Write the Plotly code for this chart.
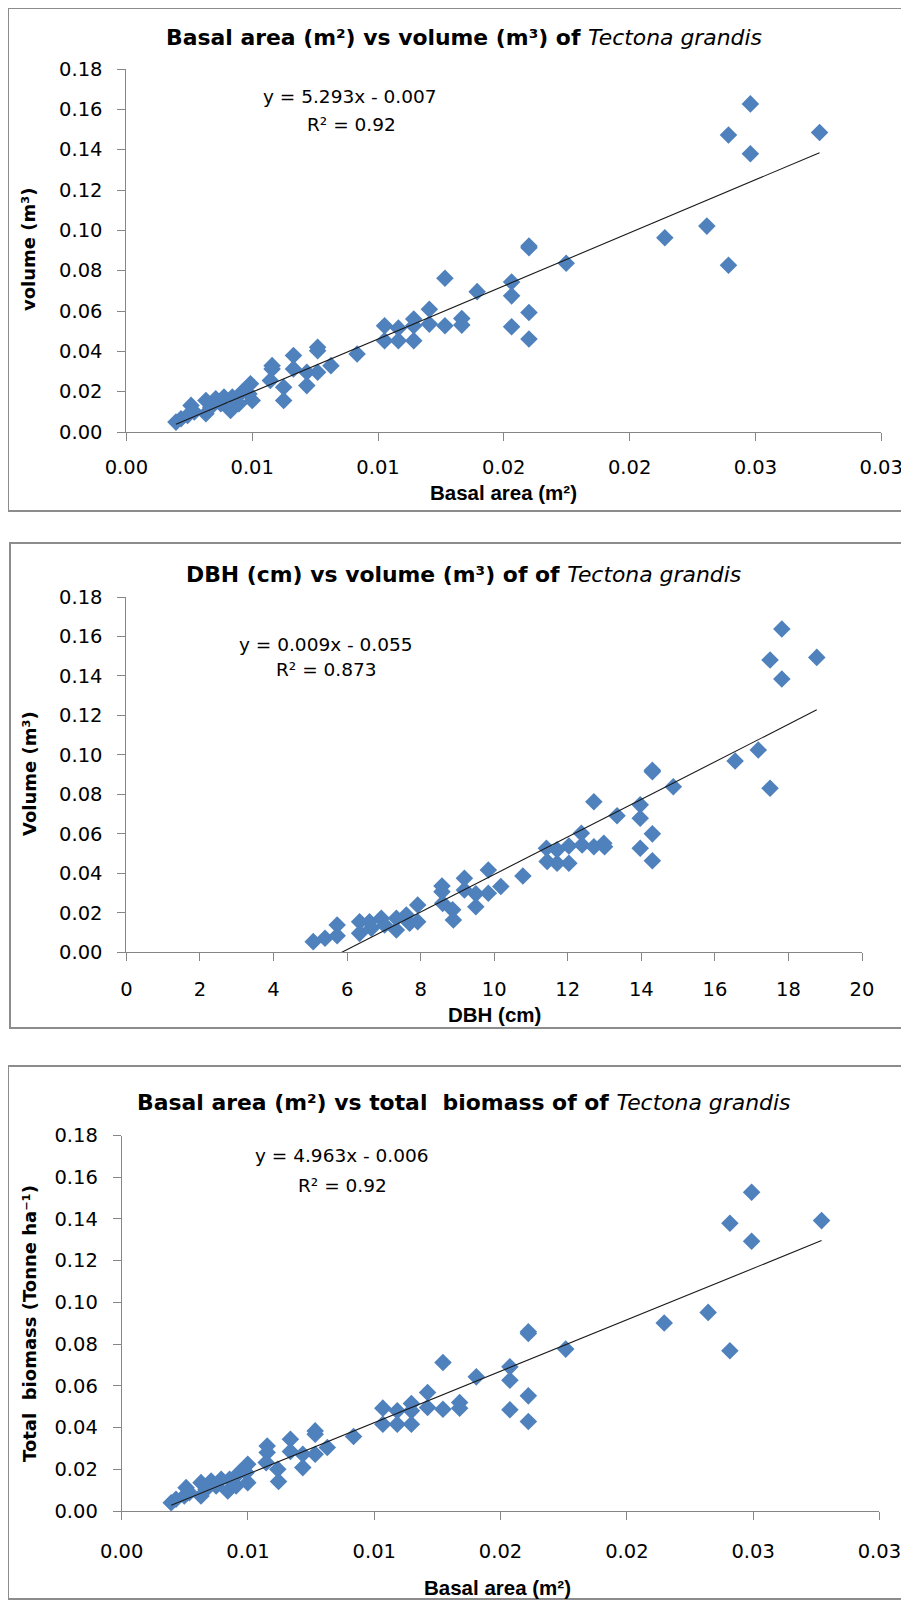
import numpy as np
import plotly.graph_objects as go

# The page body adds an 8 px margin, so the figure is drawn 8 px smaller and all
# reference pixel positions are shifted by that offset.
PAGE_W, PAGE_H = 909, 1600
OFF = 8
W, H = PAGE_W - OFF, PAGE_H - OFF

# ---------------- data ----------------
# Panel 1: basal area (m2) vs volume (m3)
basal_area_1 = [0.00197, 0.00217, 0.00257, 0.00243, 0.0027, 0.00316, 0.00316, 0.00335, 0.00355,
                0.00375, 0.00388, 0.00414, 0.00421, 0.00447, 0.0046, 0.00493, 0.005, 0.00487,
                0.00579, 0.00579, 0.00572, 0.00625, 0.00625, 0.00664, 0.00664, 0.00717, 0.00717,
                0.0076, 0.0076, 0.0076, 0.00813, 0.00917,
                0.01026, 0.01026, 0.01081, 0.01081, 0.01142, 0.01142, 0.01142, 0.01204, 0.01204,
                0.01266, 0.01266, 0.01333, 0.01333, 0.01394,
                0.01531, 0.01531, 0.01531, 0.016, 0.016, 0.016, 0.016, 0.01748, 0.0214, 0.02307,
                0.02393, 0.02393, 0.0248, 0.0248, 0.02755]
volume_1 = [0.0049, 0.0066, 0.0132, 0.0082, 0.0099, 0.0156, 0.0091, 0.0123, 0.0165,
            0.014, 0.0173, 0.0107, 0.0173, 0.014, 0.0198, 0.0239, 0.0156, 0.0189,
            0.0329, 0.0313, 0.0255, 0.0222, 0.0156, 0.0379, 0.0313, 0.023, 0.0296,
            0.042, 0.0403, 0.0296, 0.0329, 0.0387,
            0.0527, 0.0453, 0.0515, 0.0453, 0.056, 0.0453, 0.0527, 0.0609, 0.0535,
            0.0762, 0.0527, 0.0563, 0.053, 0.0696,
            0.0744, 0.0675, 0.0522, 0.0914, 0.0922, 0.0593, 0.0461, 0.0837, 0.0963, 0.1021,
            0.1473, 0.0827, 0.1627, 0.138, 0.1485]

# Panel 2: DBH (cm) vs volume (m3)
dbh_2 = [5.08, 5.40, 5.73, 5.73, 6.34, 6.34, 6.61, 6.66, 6.93, 7.02, 7.34, 7.34, 7.61, 7.70, 7.92, 7.92,
         8.58, 8.58, 8.60, 8.87, 8.89, 9.19, 9.19, 9.50, 9.50, 9.84, 9.84, 10.18, 10.78,
         11.42, 11.44, 11.71, 11.71, 12.03, 12.03, 12.37, 12.39, 12.71, 12.71, 12.98, 13.0, 13.34,
         13.97, 13.97, 13.97, 14.30, 14.30, 14.30, 14.30, 14.87,
         16.55, 17.18, 17.50, 17.50, 17.82, 17.82, 18.77]
volume_2 = [0.0054, 0.0071, 0.0084, 0.0138, 0.0155, 0.0096, 0.0155, 0.0122, 0.0172, 0.0138, 0.0113, 0.0172,
            0.0189, 0.0147, 0.024, 0.0155,
            0.0336, 0.0307, 0.0248, 0.0215, 0.0164, 0.0375, 0.0316, 0.0231, 0.0296, 0.0417, 0.0299, 0.0333, 0.0387,
            0.0527, 0.046, 0.0451, 0.0519, 0.0539, 0.0451, 0.0603, 0.0544, 0.0763, 0.0535, 0.0552, 0.0535, 0.0692,
            0.0747, 0.0679, 0.0527, 0.0915, 0.0922, 0.06, 0.0464, 0.0839,
            0.0969, 0.1025, 0.1481, 0.0831, 0.1638, 0.1385, 0.1494]

# Panel 3: basal area (m2) vs total biomass
basal_area_3 = [0.00196, 0.00215, 0.00255, 0.00248, 0.00268, 0.00314, 0.00314, 0.00334, 0.00354,
                0.00374, 0.00394, 0.0042, 0.00427, 0.00453, 0.00466, 0.00499, 0.00499, 0.00493,
                0.00576, 0.00576, 0.00572, 0.00618, 0.00621, 0.00668, 0.00668, 0.00717, 0.00717,
                0.00766, 0.00766, 0.00766, 0.00814, 0.00918,
                0.01034, 0.01034, 0.01091, 0.01091, 0.01147, 0.01147, 0.01147, 0.01211, 0.01211,
                0.01272, 0.01272, 0.01338, 0.01338, 0.01404,
                0.01537, 0.01537, 0.01537, 0.0161, 0.0161, 0.0161, 0.0161, 0.01758, 0.02148, 0.02322,
                0.02408, 0.02408, 0.02494, 0.02494, 0.02771]
biomass_3 = [0.004, 0.0056, 0.0112, 0.0072, 0.0088, 0.0136, 0.0072, 0.0104, 0.0144,
             0.012, 0.0152, 0.0096, 0.0152, 0.012, 0.0184, 0.0224, 0.0136, 0.0184,
             0.0312, 0.028, 0.0232, 0.02, 0.0141, 0.0344, 0.0285, 0.0208, 0.0272,
             0.0384, 0.0368, 0.0272, 0.0304, 0.0357,
             0.0493, 0.0416, 0.048, 0.0416, 0.0515, 0.0416, 0.048, 0.0568, 0.0496,
             0.0712, 0.0488, 0.052, 0.0493, 0.0643,
             0.0691, 0.0627, 0.0485, 0.0851, 0.0859, 0.0552, 0.0429, 0.0776, 0.0901, 0.0952,
             0.1379, 0.0768, 0.1528, 0.1293, 0.1392]

# tick labels
ba_tickvals = [0, 0.005, 0.01, 0.015, 0.02, 0.025, 0.03]
ba_ticktext = ["0.00", "0.01", "0.01", "0.02", "0.02", "0.03", "0.03"]
dbh_tickvals = [0, 2, 4, 6, 8, 10, 12, 14, 16, 18, 20]
y_tickvals = [0, 0.02, 0.04, 0.06, 0.08, 0.10, 0.12, 0.14, 0.16, 0.18]

titles = ["<b>Basal area (m²) vs volume (m³) of </b><i>Tectona grandis</i>",
          "<b>DBH (cm) vs volume (m³) of of </b><i>Tectona grandis</i>",
          "<b>Basal area (m²) vs total  biomass of of </b><i>Tectona grandis</i>"]
x_titles = ["Basal area (m²)", "DBH (cm)", "Basal area (m²)"]
y_titles = ["volume (m³)", "Volume (m³)", "Total  biomass (Tonne ha⁻¹)"]
equations = [("y = 5.293x - 0.007", "R² = 0.92"),
             ("y = 0.009x - 0.055", "R² = 0.873"),
             ("y = 4.963x - 0.006", "R² = 0.92")]

# ---------------- layout helpers (page pixels -> paper fractions) ----------------
def px(x):
    return (x - OFF) / W

def py(y):
    return 1 - (y - OFF) / H

MARKER = "#4F81BD"
AXIS = "#868686"
TICKFONT = dict(family="DejaVu Sans", size=19.5, color="#000000")

panels = [
    dict(x=basal_area_1, y=volume_1, xd=(126.4, 881.2), yd=(69, 432), xr=[0, 0.03],
         tv=ba_tickvals, tt=ba_ticktext, box=(8, 8, 907, 511),
         title_y=37, xt=(503, 493), yt=(29, 250), eq=((350, 96), (351, 124)), std=10),
    dict(x=dbh_2, y=volume_2, xd=(126.4, 862), yd=(597, 952.3), xr=[0, 20],
         tv=dbh_tickvals, tt=[str(v) for v in dbh_tickvals], box=(10, 543, 907, 1028),
         title_y=574, xt=(494, 1014), yt=(29, 774), eq=((326, 644), (326, 670)), std=11),
    dict(x=basal_area_3, y=biomass_3, xd=(121.7, 879.4), yd=(1135.5, 1511), xr=[0, 0.03],
         tv=ba_tickvals, tt=ba_ticktext, box=(8, 1066, 907, 1599),
         title_y=1102, xt=(498, 1587), yt=(29, 1324), eq=((342, 1155), (342, 1185)), std=15),
]

fig = go.Figure()
shapes = []
annotations = []
layout_axes = {}

for i, p in enumerate(panels, start=1):
    xa = "x" if i == 1 else f"x{i}"
    ya = "y" if i == 1 else f"y{i}"
    xs = np.array(p["x"])
    ys = np.array(p["y"])
    fig.add_trace(go.Scatter(x=xs, y=ys, mode="markers", xaxis=xa, yaxis=ya,
                             marker=dict(symbol="diamond", size=13.5, color=MARKER,
                                         line=dict(width=0)),
                             cliponaxis=False, showlegend=False, hoverinfo="skip"))
    slope, intercept = np.polyfit(xs, ys, 1)
    lx = np.array([xs.min(), xs.max()])
    fig.add_trace(go.Scatter(x=lx, y=slope * lx + intercept, mode="lines", xaxis=xa, yaxis=ya,
                             line=dict(color="#1a1a1a", width=1.1),
                             showlegend=False, hoverinfo="skip"))

    layout_axes["xaxis" if i == 1 else f"xaxis{i}"] = dict(
        domain=[px(p["xd"][0]), px(p["xd"][1])], range=p["xr"], anchor=ya,
        tickmode="array", tickvals=p["tv"], ticktext=p["tt"], automargin=False,
        showgrid=False, zeroline=False, showline=True, linecolor=AXIS, linewidth=1,
        ticks="outside", ticklen=8, tickcolor=AXIS, tickwidth=1,
        tickfont=TICKFONT, ticklabelstandoff=p["std"], fixedrange=True)
    layout_axes["yaxis" if i == 1 else f"yaxis{i}"] = dict(
        domain=[py(p["yd"][1]), py(p["yd"][0])], range=[0, 0.18], anchor=xa,
        tickmode="array", tickvals=y_tickvals, ticktext=[f"{v:.2f}" for v in y_tickvals],
        automargin=False,
        showgrid=False, zeroline=False, showline=True, linecolor=AXIS, linewidth=1,
        ticks="outside", ticklen=8, tickcolor=AXIS, tickwidth=1,
        tickfont=TICKFONT, ticklabelstandoff=11, fixedrange=True)

    bx0, by0, bx1, by1 = p["box"]
    shapes.append(dict(type="rect", xref="paper", yref="paper",
                       x0=px(bx0), x1=px(bx1), y0=py(by1), y1=py(by0),
                       line=dict(color="#8c8c8c", width=2), fillcolor="rgba(0,0,0,0)"))

    annotations.append(dict(text=titles[i - 1], x=px(464), y=py(p["title_y"]), xref="paper", yref="paper",
                            xanchor="center", yanchor="middle", showarrow=False,
                            font=dict(family="DejaVu Sans, Verdana, sans-serif", size=21.9, color="#000")))
    annotations.append(dict(text="<b>" + x_titles[i - 1] + "</b>", x=px(p["xt"][0]), y=py(p["xt"][1]),
                            xref="paper", yref="paper", xanchor="center", yanchor="middle", showarrow=False,
                            font=dict(family="Liberation Sans, Arial, sans-serif", size=20.5, color="#000")))
    annotations.append(dict(text="<b>" + y_titles[i - 1] + "</b>", x=px(p["yt"][0]), y=py(p["yt"][1]),
                            xref="paper", yref="paper", xanchor="center", yanchor="middle", showarrow=False,
                            textangle=-90,
                            font=dict(family="DejaVu Sans, Verdana, sans-serif", size=18, color="#000")))
    for (ex, ey), txt in zip(p["eq"], equations[i - 1]):
        annotations.append(dict(text=txt, x=px(ex), y=py(ey), xref="paper", yref="paper",
                                xanchor="center", yanchor="middle", showarrow=False,
                                font=dict(family="DejaVu Sans", size=18.5, color="#000")))

fig.update_layout(width=W, height=H, margin=dict(l=0, r=0, t=0, b=0, pad=0, autoexpand=False),
                  autosize=False,
                  paper_bgcolor="white", plot_bgcolor="white",
                  shapes=shapes, annotations=annotations, **layout_axes)

fig.write_html("out.html")
